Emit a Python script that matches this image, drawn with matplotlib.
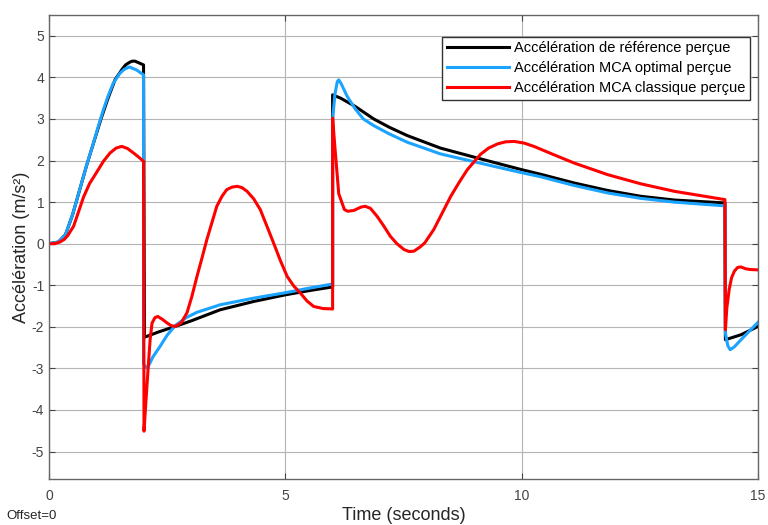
import matplotlib
matplotlib.use("Agg")
import matplotlib.pyplot as plt

plt.rcParams['font.family'] = ['Liberation Sans', 'DejaVu Sans']
plt.rcParams['axes.unicode_minus'] = False

# perceived acceleration
t_ref = [0, 0.2, 0.35, 0.5, 0.65, 0.8, 0.95, 1.1, 1.25, 1.4, 1.55, 1.62, 1.7, 1.76, 1.82, 1.9, 2.0,
         2.02, 2.3, 2.67, 3.0, 3.62, 4.33, 5.0, 5.5, 6.0,
         6.0, 6.17, 6.48, 6.87, 7.2, 7.58, 8.28, 9.13, 10.0, 10.4, 11.11, 11.82, 12.52, 13.23, 14.3,
         14.31, 14.64, 15.0]
y_ref = [0, 0.04, 0.22, 0.7, 1.3, 1.9, 2.45, 3.0, 3.5, 3.95, 4.2, 4.3, 4.36, 4.39, 4.39, 4.35, 4.3,
         -2.25, -2.13, -1.99, -1.86, -1.59, -1.39, -1.23, -1.13, -1.04,
         3.58, 3.5, 3.3, 3.0, 2.8, 2.6, 2.3, 2.04, 1.78, 1.67, 1.46, 1.28, 1.14, 1.05, 0.98,
         -2.31, -2.19, -1.99]

t_opt = [0, 0.2, 0.35, 0.5, 0.65, 0.8, 0.94, 1.05, 1.15, 1.25, 1.36, 1.5, 1.6, 1.7, 1.85, 2.0,
         2.0, 2.08, 2.2, 2.35, 2.5, 2.67, 2.9, 3.13, 3.62, 4.33, 5.0, 5.5, 6.0,
         6.0, 6.05, 6.1, 6.13, 6.18, 6.31, 6.48, 6.65, 6.87, 7.2, 7.58, 8.28, 9.34, 10.03, 10.4,
         11.11, 11.82, 12.52, 13.23, 14.3,
         14.31, 14.36, 14.41, 14.5, 14.64, 15.0]
y_opt = [0, 0.04, 0.22, 0.7, 1.3, 1.9, 2.42, 2.85, 3.22, 3.55, 3.86, 4.1, 4.2, 4.25, 4.18, 4.06,
         -2.9, -3.0, -2.72, -2.47, -2.2, -1.97, -1.78, -1.65, -1.47, -1.31, -1.18, -1.07, -0.97,
         3.0, 3.6, 3.9, 3.94, 3.85, 3.54, 3.24, 3.0, 2.84, 2.64, 2.44, 2.16, 1.88, 1.70, 1.61,
         1.40, 1.22, 1.09, 1.0, 0.91,
         -2.15, -2.45, -2.55, -2.48, -2.31, -1.89]

t_cla = [0, 0.12, 0.23, 0.32, 0.4, 0.52, 0.62, 0.73, 0.86, 1.01, 1.15, 1.29, 1.42, 1.54, 1.66,
         1.79, 1.9, 2.0,
         2.01, 2.05, 2.1, 2.14, 2.18, 2.24, 2.3, 2.4, 2.49, 2.58, 2.67, 2.8, 2.92, 3.02, 3.13,
         3.24, 3.34, 3.45, 3.55, 3.66, 3.76, 3.87, 3.98, 4.08, 4.19, 4.33, 4.47, 4.6, 4.75, 4.9,
         5.04, 5.18, 5.32, 5.46, 5.6, 5.8, 6.0,
         6.0, 6.05, 6.13, 6.25, 6.32, 6.45, 6.6, 6.69, 6.8, 6.94, 7.08, 7.22, 7.36, 7.51, 7.62,
         7.72, 7.85, 7.95, 8.14, 8.32, 8.5, 8.68, 8.85, 9.13, 9.3, 9.49, 9.66, 9.84, 10.05, 10.26,
         10.68, 11.11, 11.82, 12.52, 13.23, 14.3,
         14.31, 14.34, 14.39, 14.44, 14.5, 14.57, 14.64, 14.73, 14.82, 15.0]
y_cla = [0, 0.0, 0.04, 0.1, 0.2, 0.42, 0.75, 1.12, 1.45, 1.72, 1.98, 2.18, 2.3, 2.34, 2.29,
         2.18, 2.08, 1.98,
         -4.51, -3.8, -2.95, -2.3, -1.91, -1.78, -1.75, -1.82, -1.9, -1.97, -1.99, -1.9, -1.66,
         -1.28, -0.79,
         -0.33, 0.1, 0.52, 0.9, 1.14, 1.30, 1.36, 1.38, 1.35, 1.26, 1.08, 0.82, 0.45, 0.02, -0.42,
         -0.79, -1.02, -1.19, -1.38, -1.51, -1.56, -1.57,
         3.02, 2.3, 1.2, 0.82, 0.78, 0.8, 0.88, 0.9, 0.85, 0.66, 0.43, 0.18, 0.0, -0.14, -0.19,
         -0.18, -0.08, 0.02, 0.34, 0.74, 1.14, 1.48, 1.78, 2.15, 2.3, 2.4, 2.45, 2.46, 2.42, 2.34,
         2.14, 1.94, 1.66, 1.44, 1.26, 1.06,
         -2.07, -1.55, -1.1, -0.82, -0.66, -0.57, -0.56, -0.6, -0.62, -0.63]

labels = ["Accélération de référence perçue",
          "Accélération MCA optimal perçue",
          "Accélération MCA classique perçue"]

fig = plt.figure(figsize=(7.68, 5.25), dpi=100)
ax = fig.add_axes([0.0638, 0.0876, 0.9232, 0.8838])

ax.plot(t_ref, y_ref, color="black", lw=2.2, label=labels[0])
ax.plot(t_opt, y_opt, color="#1aa3ff", lw=2.2, label=labels[1])
ax.plot(t_cla, y_cla, color="#ff0000", lw=2.2, label=labels[2])

ax.set_xlim(0, 15)
ax.set_ylim(-5.66, 5.5)
ax.set_xticks([0, 5, 10, 15])
ax.set_yticks(range(-5, 6))
ax.grid(True, color="#b4b4b4", lw=0.8)
ax.tick_params(direction="in", top=True, right=True, colors="#444444", labelsize=10, length=4)
ax.tick_params(axis="x", pad=7)
for s in ax.spines.values():
    s.set_color("#666666")
    s.set_linewidth(1.0)

ax.set_xlabel("Time (seconds)", fontsize=13, color="#262626", labelpad=3)
ax.set_ylabel("Accélération (m/s²)", fontsize=13, color="#262626", labelpad=1)
fig.text(0.008, 0.012, "Offset=0", fontsize=9.5, color="#262626")

leg = ax.legend(loc="upper right", bbox_to_anchor=(0.989, 0.953), fontsize=10.5,
                handlelength=4.3, handletextpad=0.35, labelspacing=0.42,
                borderpad=0.3, fancybox=False, framealpha=1, borderaxespad=0)
leg.get_frame().set_edgecolor("#333333")
leg.get_frame().set_linewidth(1.0)

fig.savefig("out.png", dpi=100)
